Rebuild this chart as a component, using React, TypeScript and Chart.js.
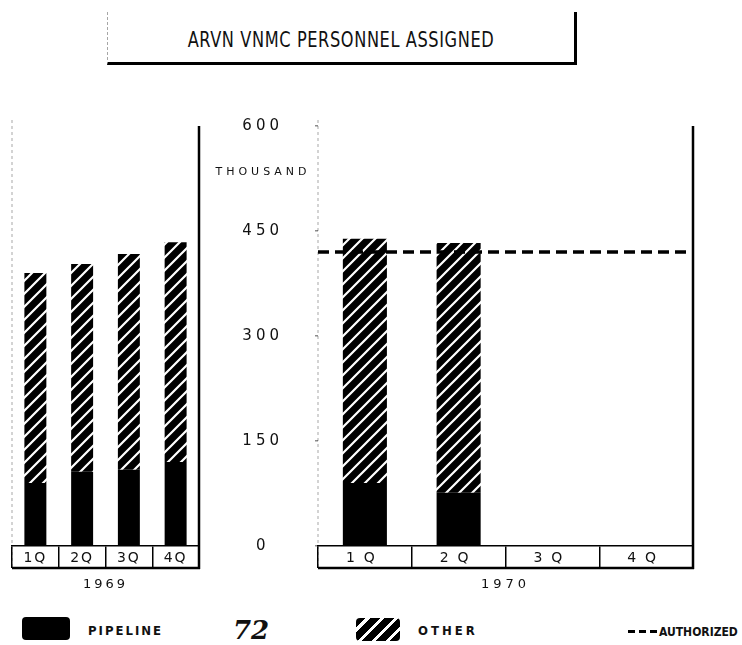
import React, { useEffect, useRef } from 'react';
import { Chart, registerables } from 'chart.js';

Chart.register(...registerables);

// ---- data ----
const TITLE = 'ARVN VNMC PERSONNEL ASSIGNED';
const QUARTERS = ['1Q', '2Q', '3Q', '4Q'];
const YEAR_1969 = '1969';
const YEAR_1970 = '1970';
const PIPELINE_1969 = [90, 106, 109, 120];
const OTHER_1969 = [300, 297, 308, 314];
const PIPELINE_1970 = [90, 76, null, null];
const OTHER_1970 = [349, 357, null, null];
const AUTHORIZED_1970 = 420;
const Y_MIN = 0;
const Y_MAX = 600;
const Y_STEP = 150;
const UNIT_LABEL = 'THOUSAND';
const LEGEND_PIPELINE = 'PIPELINE';
const LEGEND_OTHER = 'OTHER';
const LEGEND_AUTHORIZED = 'AUTHORIZED';
const PAGE_NUMBER = '72';

const INK = '#111';
const FONT = "'DejaVu Sans', sans-serif";

function makeHatch(): CanvasPattern | string {
  const s = 13;
  const c = document.createElement('canvas');
  c.width = s;
  c.height = s;
  const g = c.getContext('2d');
  if (!g) return '#000';
  g.fillStyle = '#000';
  g.fillRect(0, 0, s, s);
  g.strokeStyle = '#fff';
  g.lineWidth = 2.2;
  g.beginPath();
  g.moveTo(-2, s + 2); g.lineTo(s + 2, -2);
  g.moveTo(-s / 2 - 2, s / 2 + 2); g.lineTo(s / 2 + 2, -s / 2 - 2);
  g.moveTo(s / 2 - 2, s * 1.5 + 2); g.lineTo(s * 1.5 + 2, s / 2 - 2);
  g.stroke();
  const p = g.createPattern(c, 'repeat');
  return p || '#000';
}

const BAND = 22;

// letter spacing: one value for titles / value ticks, another for the quarter labels (drawn after the datasets)
function spacingPlugin(base: number, quarter: number) {
  return {
    id: 'spacing',
    beforeUpdate(chart: any) { chart.ctx.letterSpacing = base + 'px'; },
    beforeDraw(chart: any) { chart.ctx.letterSpacing = base + 'px'; },
    afterDatasetsDraw(chart: any) { chart.ctx.letterSpacing = quarter + 'px'; },
    afterDraw(chart: any) { chart.ctx.letterSpacing = base + 'px'; },
  };
}

const framePlugin = {
  id: 'frame',
  afterDraw(chart: any) {
    const { ctx, chartArea } = chart;
    const { left, right, top, bottom } = chartArea;
    const bb = bottom + BAND;
    ctx.save();
    ctx.strokeStyle = 'rgba(0,0,0,0.35)';
    ctx.lineWidth = 1;
    ctx.setLineDash([3, 3]);
    ctx.beginPath();
    ctx.moveTo(left, top - 6);
    ctx.lineTo(left, bb);
    ctx.stroke();
    ctx.setLineDash([]);
    ctx.strokeStyle = '#000';
    ctx.lineWidth = 2.5;
    ctx.beginPath();
    ctx.moveTo(right, top);
    ctx.lineTo(right, bb + 1);
    ctx.moveTo(left, bb);
    ctx.lineTo(right + 1, bb);
    ctx.stroke();
    ctx.restore();
  },
};

function xAxis(year: string, labelSize: number) {
  return {
    type: 'category',
    stacked: true,
    grid: {
      display: true,
      drawOnChartArea: false,
      drawTicks: true,
      tickLength: BAND,
      color: '#000',
      lineWidth: 1.5,
      offset: true,
    },
    border: { display: true, color: '#000', width: 1.5 },
    ticks: {
      padding: -18,
      color: INK,
      font: { family: FONT, size: labelSize },
      maxRotation: 0,
      autoSkip: false,
      z: 1,
    },
    title: {
      display: true,
      text: year,
      color: INK,
      padding: 0,
      font: { family: FONT, size: 13 },
    },
    afterFit(scale: any) { scale.height = 46; },
  };
}

const barStyle = { borderWidth: 0, barPercentage: 0.94, categoryPercentage: 0.5, grouped: false, order: 1 };

function LeftPanel() {
  const ref = useRef<HTMLCanvasElement>(null);
  useEffect(() => {
    const hatch = makeHatch();
    const chart = new Chart(ref.current as HTMLCanvasElement, {
      type: 'bar',
      data: {
        labels: QUARTERS,
        datasets: [
          { label: LEGEND_PIPELINE, data: PIPELINE_1969, backgroundColor: '#000', ...barStyle },
          { label: LEGEND_OTHER, data: OTHER_1969, backgroundColor: hatch as any, ...barStyle },
        ],
      },
      options: {
        responsive: false,
        animation: false,
        layout: { padding: { left: 12, right: 11, top: 16, bottom: 0 } },
        plugins: { legend: { display: false }, tooltip: { enabled: false }, title: { display: false } },
        scales: {
          x: xAxis(YEAR_1969, 14) as any,
          y: { display: false, stacked: true, min: Y_MIN, max: Y_MAX },
        },
      },
      plugins: [spacingPlugin(3, 2), framePlugin],
    });
    return () => chart.destroy();
  }, []);
  return <canvas ref={ref} width={210} height={482} style={{ position: 'absolute', left: 0, top: 110, width: 210, height: 482 }} />;
}

function RightPanel() {
  const ref = useRef<HTMLCanvasElement>(null);
  useEffect(() => {
    const hatch = makeHatch();
    const chart = new Chart(ref.current as HTMLCanvasElement, {
      type: 'bar',
      data: {
        labels: QUARTERS,
        datasets: [
          { type: 'bar', label: LEGEND_PIPELINE, data: PIPELINE_1970, backgroundColor: '#000', ...barStyle },
          { type: 'bar', label: LEGEND_OTHER, data: OTHER_1970, backgroundColor: hatch as any, ...barStyle },
          {
            type: 'line',
            label: LEGEND_AUTHORIZED,
            data: [{ x: 0, y: AUTHORIZED_1970 }, { x: 1, y: AUTHORIZED_1970 }] as any,
            xAxisID: 'x2',
            borderColor: '#000',
            borderWidth: 3.5,
            borderDash: [11, 6],
            pointRadius: 0,
            fill: false,
            order: 0,
          } as any,
        ],
      },
      options: {
        responsive: false,
        animation: false,
        layout: { padding: { left: 0, right: 49, top: 16, bottom: 0 } },
        plugins: { legend: { display: false }, tooltip: { enabled: false }, title: { display: false } },
        scales: {
          x: xAxis(YEAR_1970, 14) as any,
          x2: { type: 'linear', display: false, min: 0, max: 1, offset: false, grid: { offset: false } } as any,
          y: {
            position: 'left',
            stacked: true,
            min: Y_MIN,
            max: Y_MAX,
            ticks: {
              stepSize: Y_STEP,
              crossAlign: 'center',
              padding: 32,
              color: INK,
              font: { family: FONT, size: 15 },
            },
            grid: { display: true, drawOnChartArea: false, drawTicks: true, tickLength: 3, color: 'rgba(0,0,0,0.45)', lineWidth: 1.5 },
            border: { display: false },
            afterFit(scale: any) {
              scale.width = 113;
              scale.paddingTop = 0;
              scale.paddingBottom = 0;
            },
          } as any,
        },
      },
      plugins: [spacingPlugin(4, 9), framePlugin],
    });
    return () => chart.destroy();
  }, []);
  return <canvas ref={ref} width={537} height={482} style={{ position: 'absolute', left: 205, top: 110, width: 537, height: 482 }} />;
}

const legendText: React.CSSProperties = {
  position: 'absolute',
  fontFamily: "'DejaVu Sans Condensed', 'DejaVu Sans', sans-serif",
  fontWeight: 'bold',
  fontSize: 13,
  color: INK,
  lineHeight: '16px',
  whiteSpace: 'nowrap',
};

export default function App() {
  return (
    <div style={{ position: 'fixed', left: 0, top: 0, width: 742, height: 645, background: '#fff', overflow: 'hidden' }}>
      {/* title box */}
      <div
        style={{
          position: 'absolute', left: 107, top: 12, width: 466, height: 50,
          borderLeft: '1px dashed rgba(0,0,0,0.35)', borderRight: '3px solid #000', borderBottom: '3px solid #000',
          display: 'flex', alignItems: 'center', justifyContent: 'center',
        }}
      >
        <span style={{ display: 'inline-block', fontFamily: "'DejaVu Sans Condensed', sans-serif", fontSize: 18, letterSpacing: '0.6px', color: INK, marginTop: 4, transform: 'scaleY(1.15)' }}>
          {TITLE}
        </span>
      </div>

      <LeftPanel />
      <RightPanel />

      <div style={{ position: 'absolute', left: 263, top: 165, transform: 'translateX(-50%)', fontFamily: FONT, fontSize: 11, letterSpacing: '4px', color: INK, whiteSpace: 'nowrap' }}>
        {UNIT_LABEL}
      </div>

      {/* legend */}
      <div style={{ position: 'absolute', left: 22, top: 617, width: 48, height: 23, background: '#000', borderRadius: 4 }} />
      <div style={{ ...legendText, left: 88, top: 623, letterSpacing: '2px' }}>{LEGEND_PIPELINE}</div>
      <div style={{ position: 'absolute', left: 233, top: 615, fontFamily: "'DejaVu Serif', serif", fontStyle: 'italic', fontWeight: 'bold', fontSize: 26, color: INK, lineHeight: '30px' }}>
        {PAGE_NUMBER}
      </div>
      <div
        style={{
          position: 'absolute', left: 356, top: 618, width: 44, height: 23, borderRadius: 4,
          background: 'repeating-linear-gradient(135deg, #000 0px, #000 7px, #fff 7px, #fff 10px)',
        }}
      />
      <div style={{ ...legendText, left: 418, top: 623, letterSpacing: '3px' }}>{LEGEND_OTHER}</div>
      <div style={{ position: 'absolute', left: 628, top: 630, width: 7, height: 3, background: '#000' }} />
      <div style={{ position: 'absolute', left: 639, top: 630, width: 7, height: 3, background: '#000' }} />
      <div style={{ position: 'absolute', left: 650, top: 630, width: 7, height: 3, background: '#000' }} />
      <div style={{ ...legendText, left: 659, top: 624, fontSize: 12 }}>{LEGEND_AUTHORIZED}</div>
    </div>
  );
}
